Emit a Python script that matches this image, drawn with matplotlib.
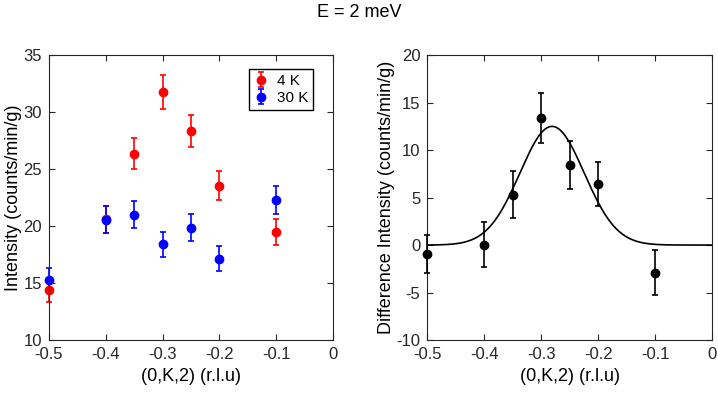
import numpy as np
import matplotlib
matplotlib.use('Agg')
import matplotlib.pyplot as plt

plt.rcParams['font.family'] = ['Liberation Sans', 'DejaVu Sans']
plt.rcParams['axes.unicode_minus'] = False

# Raw intensities
k_4K = [-0.5, -0.4, -0.35, -0.3, -0.25, -0.2, -0.1]
int_4K = [14.4, 20.6, 26.35, 31.8, 28.35, 23.55, 19.45]
err_4K = [1.05, 1.2, 1.35, 1.5, 1.4, 1.25, 1.15]

k_30K = [-0.5, -0.4, -0.35, -0.3, -0.25, -0.2, -0.1]
int_30K = [15.3, 20.55, 21.0, 18.4, 19.85, 17.15, 22.3]
err_30K = [1.0, 1.2, 1.17, 1.12, 1.17, 1.07, 1.22]

# Difference (4 K - 30 K), right panel
k_diff = [-0.5, -0.4, -0.35, -0.3, -0.25, -0.2, -0.1]
diff = [-0.9, 0.05, 5.3, 13.4, 8.45, 6.4, -2.9]
err_diff = [2.0, 2.35, 2.5, 2.6, 2.55, 2.3, 2.35]

# Gaussian fit parameters (amplitude, centre, sigma)
fit_amp, fit_x0, fit_sig = 12.5, -0.281, 0.0565

fs = 13

fig = plt.figure(figsize=(7.18, 3.94), dpi=100)
fig.text(0.5, 0.968, 'E = 2 meV', ha='center', va='center', fontsize=fs)

ax1 = fig.add_axes([0.068, 0.137, 0.396, 0.723])
ax2 = fig.add_axes([0.595, 0.137, 0.397, 0.723])

eb_kw = dict(fmt='o', ms=6, capsize=2, elinewidth=1.2, capthick=1.2,
             clip_on=False)
ax1.errorbar(k_4K, int_4K, yerr=err_4K, color='#ff0000', label='4 K', **eb_kw)
ax1.errorbar(k_30K, int_30K, yerr=err_30K, color='#0000ff', label='30 K', **eb_kw)
ax1.set_xlim(-0.5, 0)
ax1.set_ylim(10, 35)
ax1.set_xticks([-0.5, -0.4, -0.3, -0.2, -0.1, 0])
ax1.set_xticklabels(['-0.5', '-0.4', '-0.3', '-0.2', '-0.1', '0'])
ax1.set_yticks([10, 15, 20, 25, 30, 35])
ax1.set_xlabel('(0,K,2) (r.l.u)', fontsize=fs, labelpad=4)
ax1.set_ylabel('Intensity (counts/min/g)', fontsize=fs, labelpad=1)
leg = ax1.legend(loc='upper left', bbox_to_anchor=(0.705, 0.95), fontsize=11,
                 fancybox=False, edgecolor='black', framealpha=1,
                 handlelength=0.9, handletextpad=0.6, borderpad=0.3,
                 labelspacing=0.2, borderaxespad=0)
leg.get_frame().set_linewidth(1.0)

ax2.errorbar(k_diff, diff, yerr=err_diff, color='black', zorder=3, **eb_kw)
xs = np.linspace(-0.5, 0, 400)
ax2.plot(xs, fit_amp * np.exp(-(xs - fit_x0) ** 2 / (2 * fit_sig ** 2)),
         color='black', lw=1.2)
ax2.set_xlim(-0.5, 0)
ax2.set_ylim(-10, 20)
ax2.set_xticks([-0.5, -0.4, -0.3, -0.2, -0.1, 0])
ax2.set_xticklabels(['-0.5', '-0.4', '-0.3', '-0.2', '-0.1', '0'])
ax2.set_yticks([-10, -5, 0, 5, 10, 15, 20])
ax2.set_xlabel('(0,K,2) (r.l.u)', fontsize=fs, labelpad=4)
ax2.set_ylabel('Difference Intensity (counts/min/g)', fontsize=fs, labelpad=1)

for ax in (ax1, ax2):
    ax.tick_params(direction='in', top=True, right=True, length=4,
                   width=0.8, labelsize=12, color='#262626',
                   labelcolor='#262626', pad=5)
    for s in ax.spines.values():
        s.set_color('#262626')
        s.set_linewidth(0.8)

fig.savefig('out.png', dpi=100)
